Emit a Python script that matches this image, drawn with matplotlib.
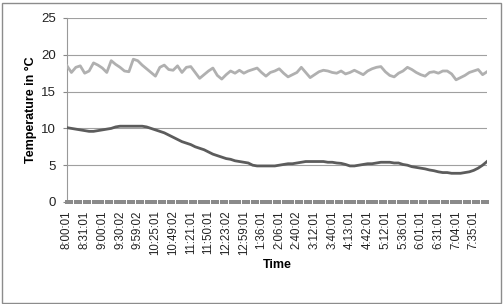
import matplotlib
matplotlib.use('Agg')
import matplotlib.pyplot as plt
from matplotlib.patches import Rectangle

plt.rcParams['font.family'] = ['Liberation Sans', 'DejaVu Sans']

# 96 readings, one label every 4th reading
time_labels = ['8:00:01', '8:31:01', '9:00:01', '9:30:02', '9:59:02', '10:25:01',
               '10:49:02', '11:21:01', '11:50:01', '12:23:02', '12:59:01', '1:36:01',
               '2:06:01', '2:40:02', '3:12:01', '3:40:01', '4:13:01', '4:42:01',
               '5:12:01', '5:36:01', '6:01:01', '6:31:01', '7:04:01', '7:35:01']

upper_temp = [18.5, 17.6, 18.3, 18.5, 17.5, 17.8, 18.9, 18.6, 18.2, 17.6,
              19.2, 18.7, 18.3, 17.8, 17.7, 19.4, 19.2, 18.6, 18.1, 17.6,
              17.1, 18.3, 18.6, 18.0, 17.9, 18.5, 17.6, 18.3, 18.4, 17.6,
              16.8, 17.3, 17.8, 18.2, 17.2, 16.7, 17.3, 17.8, 17.5, 17.9,
              17.5, 17.8, 18.0, 18.2, 17.6, 17.1, 17.6, 17.8, 18.1, 17.5,
              17.0, 17.3, 17.6, 18.3, 17.6, 16.9, 17.3, 17.7, 17.9, 17.8,
              17.6, 17.5, 17.8, 17.4, 17.6, 17.9, 17.6, 17.3, 17.8, 18.1,
              18.3, 18.4, 17.7, 17.2, 17.0, 17.5, 17.8, 18.3, 18.0, 17.6,
              17.3, 17.1, 17.6, 17.7, 17.5, 17.8, 17.8, 17.4, 16.6, 16.9,
              17.2, 17.6, 17.8, 18.0, 17.3, 17.7]

lower_temp = [10.1, 10.0, 9.9, 9.8, 9.7, 9.6, 9.6, 9.7, 9.8, 9.9,
              10.0, 10.2, 10.3, 10.3, 10.3, 10.3, 10.3, 10.3, 10.2, 10.0,
              9.8, 9.6, 9.4, 9.1, 8.8, 8.5, 8.2, 8.0, 7.8, 7.5,
              7.3, 7.1, 6.8, 6.5, 6.3, 6.1, 5.9, 5.8, 5.6, 5.5,
              5.4, 5.3, 5.0, 4.9, 4.9, 4.9, 4.9, 4.9, 5.0, 5.1,
              5.2, 5.2, 5.3, 5.4, 5.5, 5.5, 5.5, 5.5, 5.5, 5.4,
              5.4, 5.3, 5.25, 5.1, 4.9, 4.9, 5.0, 5.1, 5.2, 5.2,
              5.3, 5.4, 5.4, 5.4, 5.3, 5.3, 5.1, 5.0, 4.8, 4.7,
              4.6, 4.5, 4.35, 4.25, 4.1, 4.0, 4.0, 3.9, 3.9, 3.9,
              4.0, 4.1, 4.3, 4.6, 5.0, 5.5]

zero_temp = [0] * len(upper_temp)

x = list(range(len(upper_temp)))

fig = plt.figure(figsize=(5.03, 3.04), dpi=100)
ax = fig.add_axes([67 / 503, 1 - 202 / 304, 420 / 503, 184 / 304])

ax.plot(x, upper_temp, color='#b0b0b0', linewidth=2.0, solid_joinstyle='round', zorder=3)
ax.plot(x, lower_temp, color='#5c5c5c', linewidth=2.0, solid_joinstyle='round', zorder=3)
ax.plot(x, zero_temp, color='#8a8a8a', linestyle='none', marker='s', markersize=2.9,
        markeredgewidth=0, zorder=4, clip_on=False)

ax.set_xlim(0, len(x) - 1)
ax.set_ylim(0, 25)
ax.set_yticks([0, 5, 10, 15, 20, 25])
ax.set_xticks(x[::4])
ax.set_xticklabels(time_labels, rotation=90, fontsize=8.3, color='#222222')
ax.tick_params(axis='y', labelsize=9.5, colors='#888888', labelcolor='#222222',
               length=3, width=0.8, pad=5)
ax.tick_params(axis='x', length=0, pad=6)
ax.grid(axis='y', color='#a0a0a0', linewidth=0.8)
ax.set_axisbelow(True)

for side in ['top', 'right', 'bottom']:
    ax.spines[side].set_visible(False)
ax.spines['left'].set_color('#999999')
ax.spines['left'].set_linewidth(0.8)

ax.set_ylabel('Temperature in °C', fontsize=9, fontweight='bold', labelpad=3)
ax.set_xlabel('Time', fontsize=9, fontweight='bold', labelpad=3)

fig.patches.append(Rectangle((1.5 / 503, 1.5 / 304), 499 / 503, 300 / 304,
                             transform=fig.transFigure, fill=False,
                             edgecolor='#8c8c8c', linewidth=1.0))

fig.savefig('out.png', dpi=100, facecolor='white')
